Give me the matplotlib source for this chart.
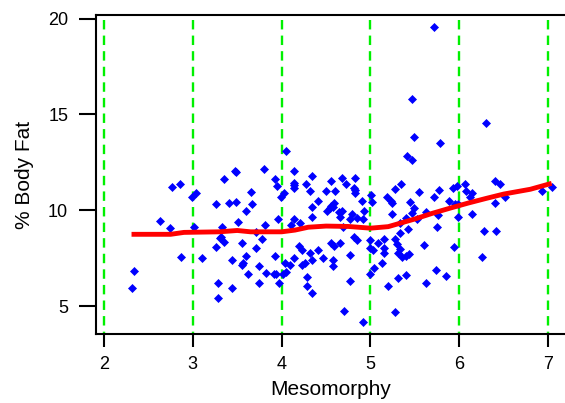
import matplotlib
matplotlib.use("Agg")
import matplotlib.pyplot as plt

plt.rcParams['font.family'] = ['Liberation Sans', 'DejaVu Sans']

# Scatter data: Mesomorphy (x) vs % Body Fat (y)
meso = [2.76, 2.86, 2.99, 3.04, 3.35, 3.26, 3.41, 2.63, 2.74, 3.01, 3.33, 3.31, 3.32, 3.35, 3.26,
        2.87, 3.10, 2.34, 2.31, 3.28, 3.28,
        4.05, 3.48, 3.49, 3.80, 4.14, 3.93, 4.34, 4.14, 4.14, 3.95, 4.14, 4.27, 4.55, 3.66, 4.32,
        4.50, 4.03, 3.99, 3.49, 3.67, 4.41, 4.34, 3.60, 4.51, 4.54, 4.56, 4.34, 3.96, 4.14, 3.51,
        3.81, 4.11, 4.21, 3.71, 3.78, 3.55, 3.71, 4.56, 4.20, 4.23, 4.41, 4.32, 3.44, 3.60, 3.93,
        3.57, 3.55, 4.14, 4.34, 4.47, 4.04, 4.09, 4.26, 4.23, 4.58, 3.75, 3.62, 3.82, 3.91, 3.94,
        4.05, 4.02, 4.29, 3.44, 3.75, 3.97, 4.29, 4.34,
        5.41, 5.47, 4.68, 4.83, 4.73, 4.60, 4.81, 4.83, 4.83, 5.34, 5.28, 5.55, 5.01, 4.91, 5.02,
        5.19, 5.23, 5.24, 5.44, 5.72, 5.77, 4.59, 4.58, 4.65, 4.68, 4.93, 5.24, 5.49, 5.47, 5.62,
        4.66, 4.79, 4.77, 4.85, 4.92, 4.69, 5.40, 5.33, 5.42, 5.52, 5.75, 4.81, 4.85, 4.66, 4.59,
        4.99, 5.09, 5.15, 5.28, 5.30, 5.33, 5.03, 5.00, 5.15, 5.15, 5.33, 5.31, 5.40, 5.36, 5.43,
        5.60, 4.77, 4.58, 5.13, 5.04, 5.00, 5.74, 4.77, 5.20, 5.31, 5.40, 5.63, 4.70, 5.28, 4.92,
        5.71, 5.47, 6.30, 5.49, 5.78, 5.93, 5.97, 6.06, 6.08, 6.14, 6.12, 6.40, 6.46, 6.51, 6.40,
        5.88, 5.95, 5.99, 5.76, 5.98, 6.14, 6.28, 6.41, 5.94, 6.25, 5.85, 6.93, 7.04]
bodyfat = [11.24, 11.36, 10.71, 10.92, 11.65, 10.32, 10.40, 9.46, 9.07, 9.15, 9.15, 8.54, 8.62, 8.35, 8.11,
           7.58, 7.50, 6.85, 5.94, 6.23, 5.41,
           13.11, 12.05, 12.00, 12.18, 12.07, 11.65, 11.78, 11.44, 11.30, 11.27, 11.15, 11.38, 11.55, 10.94, 11.03,
           11.03, 10.92, 10.68, 10.42, 10.33, 10.51, 10.19, 9.98, 9.98, 10.10, 10.23, 9.67, 9.57, 9.57, 9.39,
           9.25, 9.24, 9.36, 8.89, 8.52, 8.32, 8.02, 8.32, 8.14, 7.93, 7.93, 7.76, 7.41, 7.62, 7.62,
           7.24, 7.17, 7.50, 7.41, 7.50, 7.24, 7.17, 7.27, 7.15, 7.10, 7.10, 6.67, 6.75, 6.67, 6.67,
           6.80, 6.68, 6.54, 5.94, 6.23, 6.23, 6.06, 5.71,
           12.81, 12.63, 11.67, 11.67, 11.36, 11.03, 11.15, 10.92, 11.05, 11.38, 11.13, 10.94, 10.79, 10.51, 10.42,
           10.71, 10.51, 10.40, 10.44, 10.71, 11.06, 10.37, 10.19, 9.93, 9.98, 9.98, 9.81, 10.11, 9.88, 9.92,
           9.67, 9.81, 9.54, 9.59, 9.54, 9.12, 9.59, 9.33, 9.01, 9.54, 9.15, 8.60, 8.46, 8.32, 8.14,
           8.46, 8.28, 8.52, 8.49, 8.25, 8.81, 7.93, 8.02, 8.02, 7.76, 8.00, 7.76, 7.62, 7.55, 7.73,
           8.19, 7.67, 7.41, 7.27, 6.98, 6.67, 6.89, 6.33, 6.06, 6.46, 6.65, 6.23, 4.77, 4.68, 4.16,
           19.58, 15.83, 14.57, 13.84, 13.53, 11.15, 11.27, 11.36, 11.01, 10.92, 10.71, 11.55, 11.36, 10.68, 10.40,
           10.51, 10.32, 10.32, 9.76, 9.67, 9.81, 8.94, 8.94, 8.11, 7.58, 6.58, 11.03, 11.24]

# Smooth (lowess-like) curve
smooth_x = [2.31, 2.75, 2.90, 3.30, 3.50, 3.65, 4.00, 4.15, 4.30, 4.50, 4.75, 5.00, 5.20,
            5.35, 5.50, 5.70, 5.90, 6.10, 6.30, 6.50, 6.80, 7.04]
smooth_y = [8.75, 8.75, 8.85, 8.88, 8.95, 8.88, 8.88, 8.97, 9.12, 9.18, 9.16, 9.07, 9.15,
            9.35, 9.55, 9.85, 10.12, 10.38, 10.62, 10.85, 11.10, 11.41]

grid_x = [2, 3, 4, 5, 6, 7]
x_ticks = [2, 3, 4, 5, 6, 7]
y_ticks = [5, 10, 15, 20]

fig = plt.figure(figsize=(5.65, 4.03), dpi=100)
ax = fig.add_axes([96/565, 69/403, 469/565, 319/403])
xlim = (1.91, 7.19)
ylim = (3.55, 20.19)

for gx in grid_x:
    ax.plot([gx, gx], [19.95, ylim[0]], color='#00F000', lw=1.7,
            linestyle=(0, (4.0, 2.6)), zorder=1)

ax.plot(meso, bodyfat, linestyle='none', marker='D', markersize=4.1,
        markerfacecolor='#0000FF', markeredgecolor='#0000FF', markeredgewidth=0.5, zorder=3)
ax.plot(smooth_x, smooth_y, color='#FF0000', lw=3.5, solid_capstyle='butt', zorder=4)

ax.set_xlim(*xlim)
ax.set_ylim(*ylim)
ax.set_xticks(x_ticks)
ax.set_yticks(y_ticks)
ax.spines['right'].set_visible(False)
for s in ['left', 'bottom', 'top']:
    ax.spines[s].set_linewidth(1.5)
ax.tick_params(axis='x', length=9, width=1.5, labelsize=13, pad=7)
ax.tick_params(axis='y', length=12, width=1.5, labelsize=13, pad=8)
ax.set_xlabel('Mesomorphy', fontsize=15, labelpad=5)
ax.set_ylabel('% Body Fat', fontsize=15, labelpad=10)

fig.savefig('out.png', dpi=100)
